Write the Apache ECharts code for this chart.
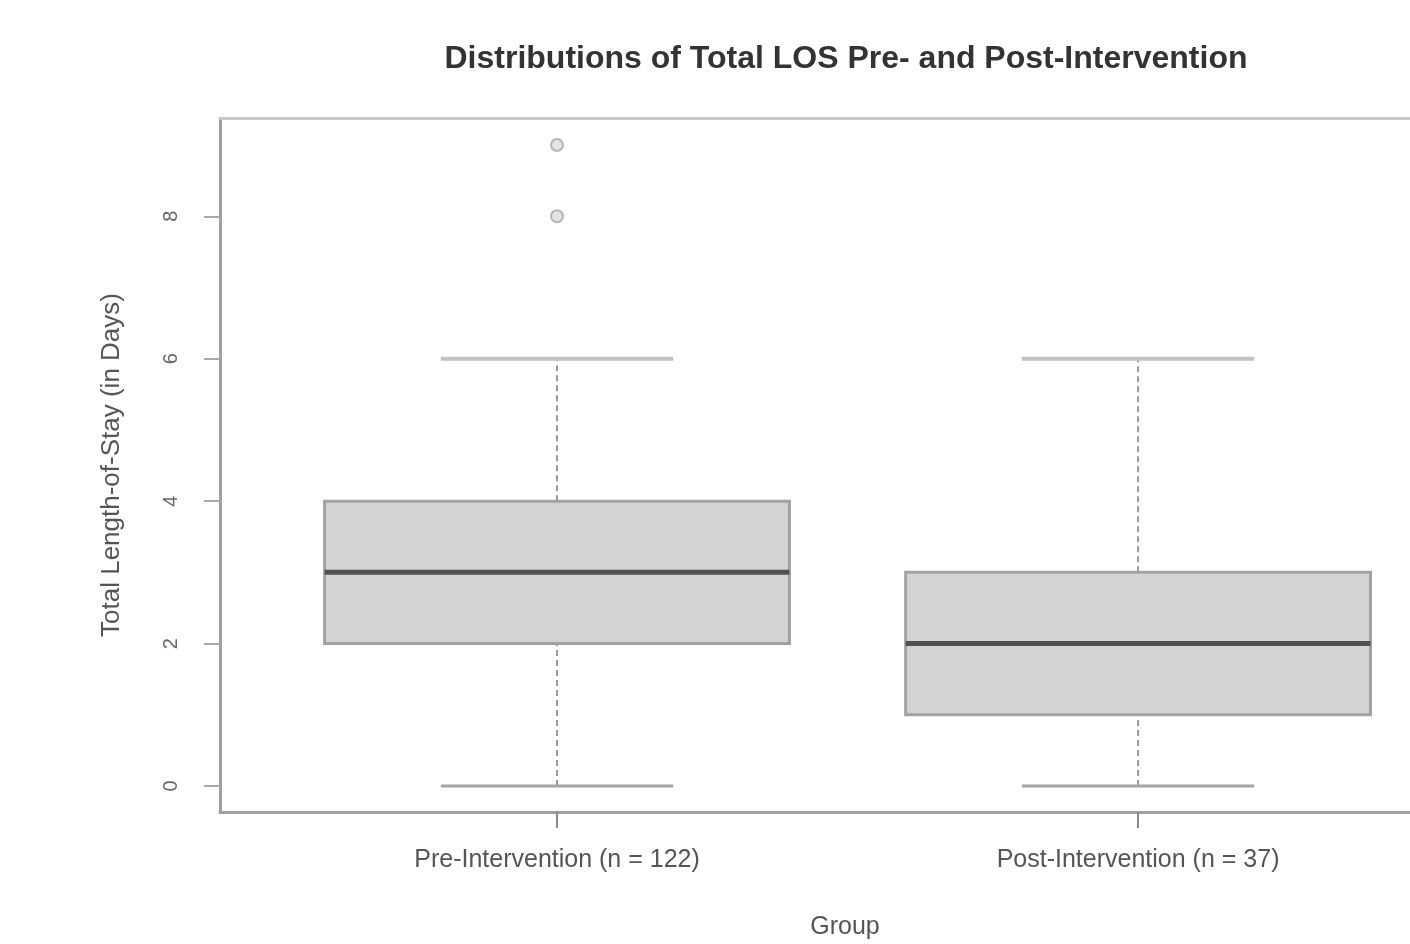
<!DOCTYPE html>
<html>
<head>
<meta charset="utf-8">
<title>Distributions of Total LOS</title>
<script src="https://cdn.jsdelivr.net/npm/echarts@6/dist/echarts.min.js"></script>
<style>
  html, body { margin: 0; padding: 0; background: #fff; }
  #chart { width: 1410px; height: 944px; }
</style>
</head>
<body>
<div id="chart"></div>
<script>
// ---------------- data ----------------
const groups = ["Pre-Intervention (n = 122)", "Post-Intervention (n = 37)"];
const groupPos = [1, 2];
const whiskerLow = [0, 0];
const q1 = [2, 1];
const median = [3, 2];
const q3 = [4, 3];
const whiskerHigh = [6, 6];
const outliers = [[1, 8], [1, 9]];
const yTicks = [0, 2, 4, 6, 8];

// ---------------- chart ----------------
const chart = echarts.init(document.getElementById("chart"));

const boxData = groupPos.map((x, i) => [
  x, whiskerLow[i], q1[i], median[i], q3[i], whiskerHigh[i]
]);

const BOX_HALF = 0.4;
const CAP_HALF = 0.2;

// R style box: dashed whiskers, caps, filled box, thick median
function renderBox(params, api) {
  const x = api.value(0);
  const lo = api.value(1), b1 = api.value(2), md = api.value(3),
        b3 = api.value(4), hi = api.value(5);
  const pLo = api.coord([x, lo]);
  const pHi = api.coord([x, hi]);
  const pQ1L = api.coord([x - BOX_HALF, b1]);
  const pQ3R = api.coord([x + BOX_HALF, b3]);
  const pMdL = api.coord([x - BOX_HALF, md]);
  const pMdR = api.coord([x + BOX_HALF, md]);
  const capL = api.coord([x - CAP_HALF, lo])[0];
  const capR = api.coord([x + CAP_HALF, lo])[0];
  const pQ1 = api.coord([x, b1]);
  const pQ3 = api.coord([x, b3]);

  const whiskerStyle = { stroke: "#9a9a9a", lineWidth: 2, lineDash: [6, 4] };

  return {
    type: "group",
    children: [
      { type: "line", shape: { x1: pLo[0], y1: pLo[1], x2: pQ1[0], y2: pQ1[1] }, style: whiskerStyle },
      { type: "line", shape: { x1: pQ3[0], y1: pQ3[1], x2: pHi[0], y2: pHi[1] }, style: whiskerStyle },
      { type: "line", shape: { x1: capL, y1: pLo[1], x2: capR, y2: pLo[1] }, style: { stroke: "#a4a4a4", lineWidth: 3 } },
      { type: "line", shape: { x1: capL, y1: pHi[1], x2: capR, y2: pHi[1] }, style: { stroke: "#c2c2c2", lineWidth: 4 } },
      {
        type: "rect",
        shape: { x: pQ1L[0], y: pQ3R[1], width: pQ3R[0] - pQ1L[0], height: pQ1L[1] - pQ3R[1] },
        style: { fill: "#d3d3d3", stroke: "#a2a2a2", lineWidth: 3 }
      },
      { type: "line", shape: { x1: pMdL[0], y1: pMdL[1], x2: pMdR[0], y2: pMdR[1] }, style: { stroke: "#505050", lineWidth: 5 } }
    ]
  };
}

chart.setOption({
  animation: false,
  textStyle: { fontFamily: "Liberation Sans, Arial, sans-serif" },
  title: [
    {
      text: "Distributions of Total LOS Pre- and Post-Intervention",
      left: 841,
      top: 38,
      textAlign: "center",
      textStyle: { fontSize: 32, fontWeight: "bold", color: "#333" }
    },
    {
      text: "Group",
      left: 840,
      top: 910,
      textAlign: "center",
      textStyle: { fontSize: 25, fontWeight: "normal", color: "#555" }
    }
  ],
  grid: {
    left: 220, right: 0, top: 118, bottom: 132,
    show: false
  },
  xAxis: [
    {
      type: "value",
      min: 0.42, max: 2.468,
      splitLine: { show: false },
      axisLine: { show: true, onZero: false, lineStyle: { color: "#a0a0a0", width: 3 } },
      axisTick: { show: true, length: 16, customValues: groupPos, lineStyle: { color: "#8a8a8a", width: 2 } },
      axisLabel: {
        customValues: groupPos,
        margin: 36,
        fontSize: 25,
        color: "#555",
        formatter: v => groups[groupPos.indexOf(v)] || ""
      }
    },
    {
      type: "value",
      position: "top",
      min: 0.42, max: 2.468,
      splitLine: { show: false },
      axisLine: { show: true, onZero: false, lineStyle: { color: "#c8c8c8", width: 3 } },
      axisTick: { show: false },
      axisLabel: { show: false }
    }
  ],
  yAxis: {
    type: "value",
    min: -0.365, max: 9.38,
    name: "Total Length-of-Stay (in Days)",
    nameLocation: "middle",
    nameGap: 95,
    nameRotate: 90,
    nameTextStyle: { fontSize: 26, color: "#555" },
    splitLine: { show: false },
    axisLine: { show: true, onZero: false, lineStyle: { color: "#a0a0a0", width: 3 } },
    axisTick: { show: true, length: 16, customValues: yTicks, lineStyle: { color: "#a8a8a8", width: 2 } },
    axisLabel: {
      customValues: yTicks,
      rotate: 90,
      margin: 39,
      fontSize: 20,
      color: "#666"
    }
  },
  series: [
    {
      type: "custom",
      renderItem: renderBox,
      encode: { x: 0, y: [1, 2, 3, 4, 5] },
      data: boxData
    },
    {
      type: "scatter",
      symbol: "circle",
      symbolSize: 12,
      itemStyle: { color: "#dcdcdc", borderColor: "#a8a8a8", borderWidth: 2 },
      data: outliers
    }
  ]
});
</script>
</body>
</html>
